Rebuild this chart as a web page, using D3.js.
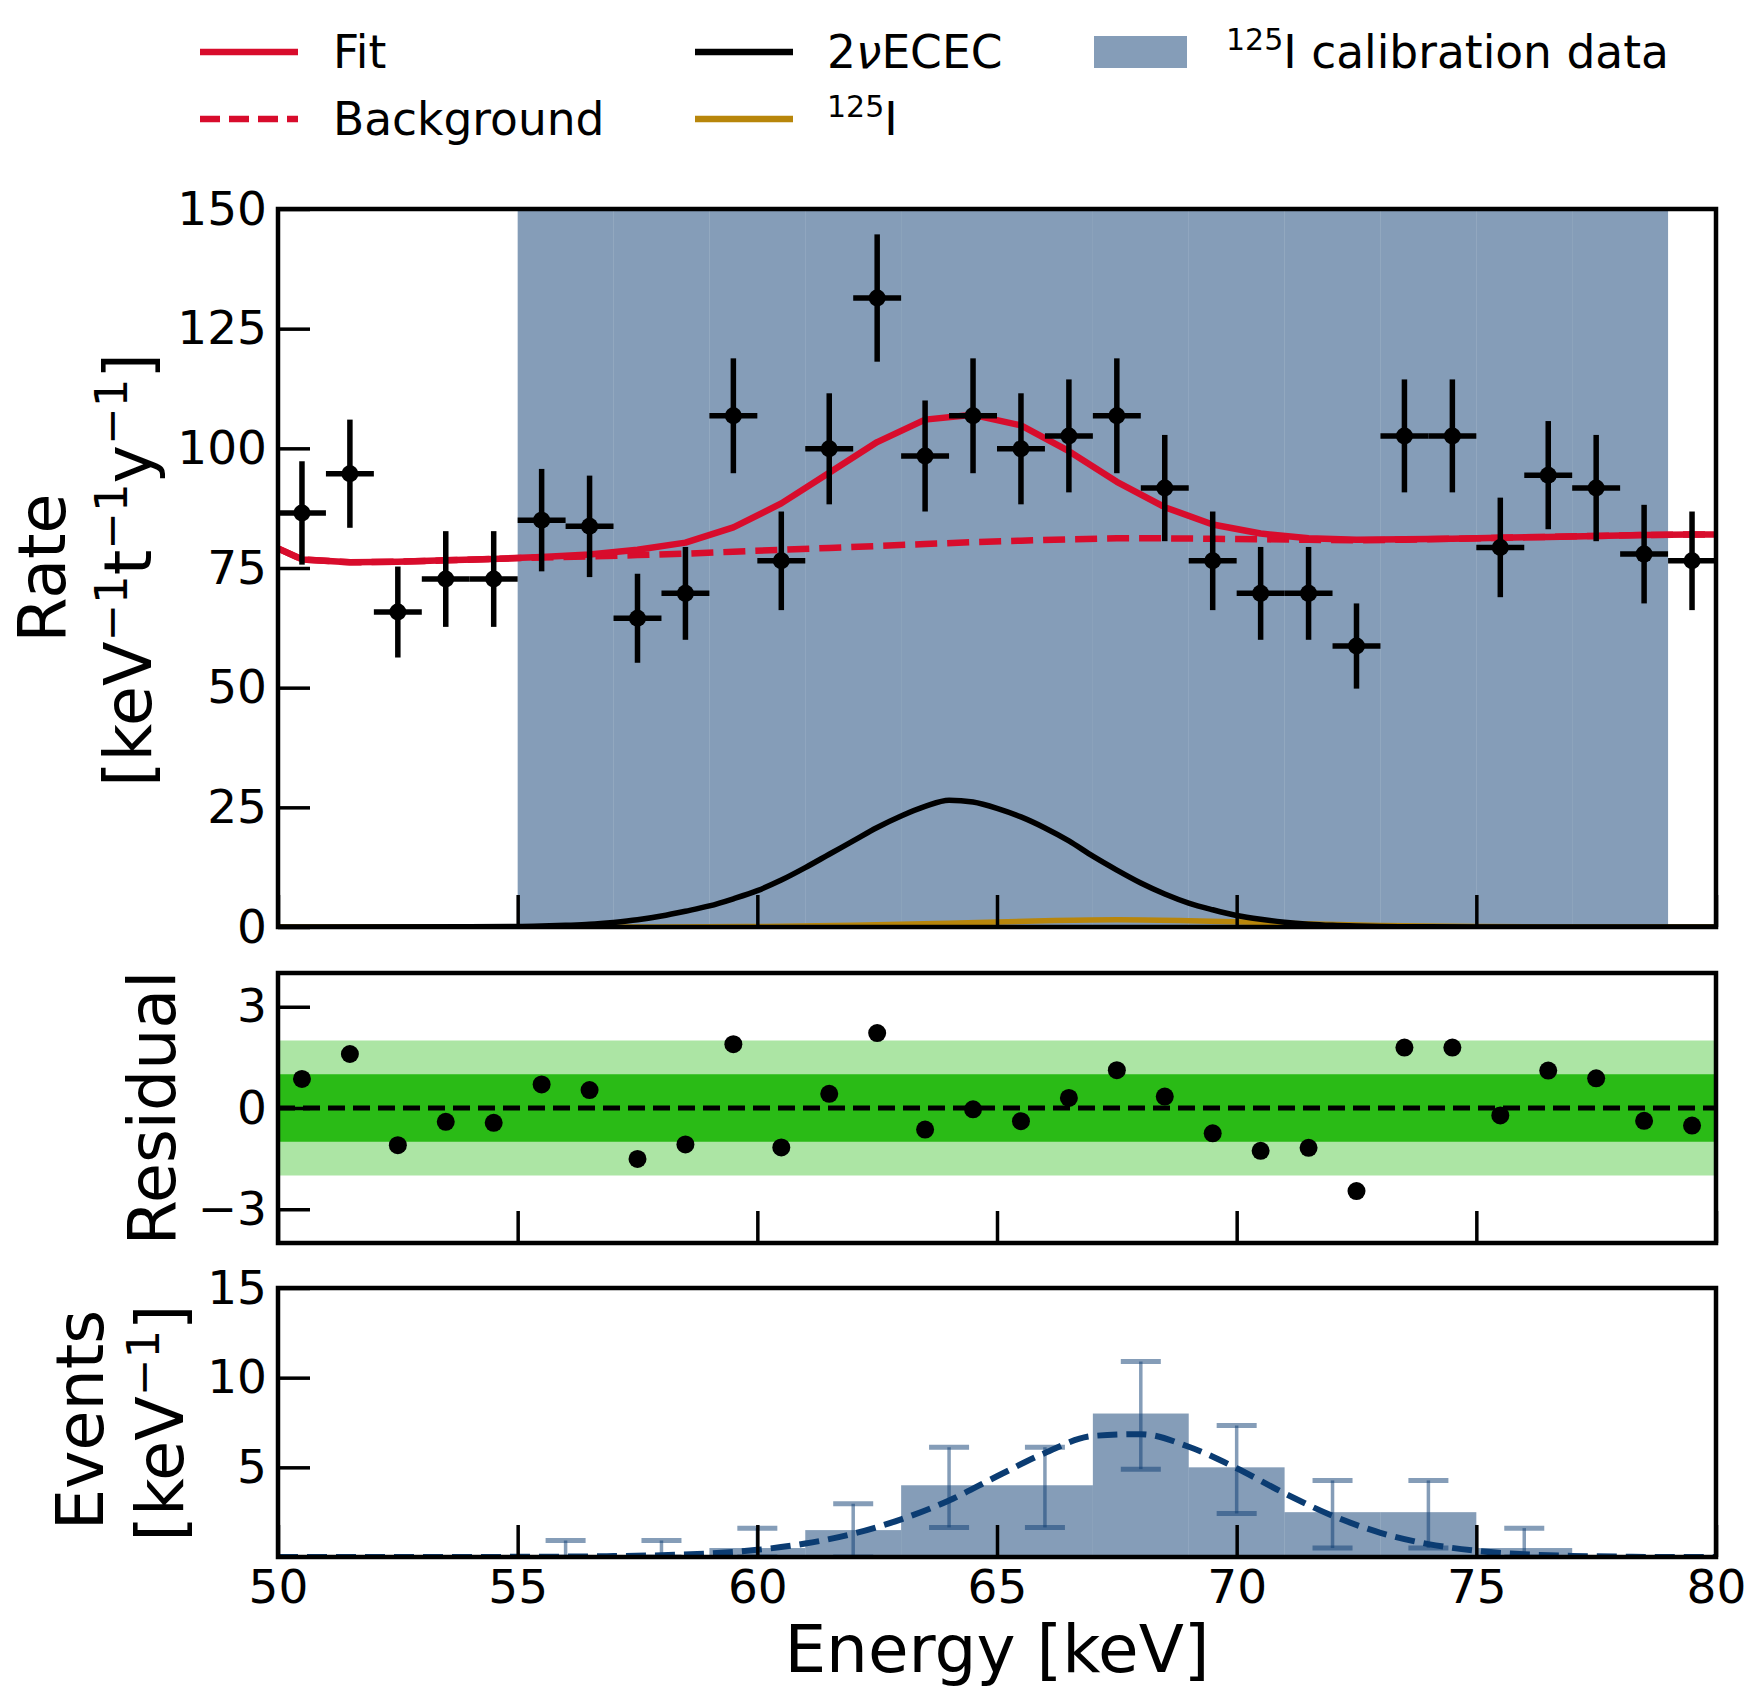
<!DOCTYPE html>
<html>
<head>
<meta charset="utf-8">
<script src="https://cdn.jsdelivr.net/npm/d3@7"></script>
<style>
  body { margin: 0; background: #fff; }
  text { font-family: "DejaVu Sans", sans-serif; fill: #000; }
</style>
</head>
<body>
<div id="chart"></div>
<script>
(function() {
  var width = 1764, height = 1702;

  // ---- data ----
  var binCenters = [50.5, 51.5, 52.5, 53.5, 54.5, 55.5, 56.5, 57.5, 58.5, 59.5,
                    60.5, 61.5, 62.5, 63.5, 64.5, 65.5, 66.5, 67.5, 68.5, 69.5,
                    70.5, 71.5, 72.5, 73.5, 74.5, 75.5, 76.5, 77.5, 78.5, 79.5];
  var rateValues = [86.5, 94.7, 65.8, 72.7, 72.7, 85.0, 83.7, 64.5, 69.7, 106.8,
                    76.5, 99.9, 131.4, 98.4, 106.8, 99.9, 102.6, 106.8, 91.7, 76.5,
                    69.7, 69.7, 58.7, 102.6, 102.6, 79.3, 94.4, 91.7, 77.9, 76.5];
  var rateErrors = [10.8, 11.3, 9.5, 10.0, 10.0, 10.7, 10.6, 9.3, 9.7, 12.0,
                    10.3, 11.6, 13.3, 11.6, 12.0, 11.6, 11.8, 12.0, 11.1, 10.3,
                    9.7, 9.7, 8.9, 11.8, 11.8, 10.4, 11.3, 11.1, 10.3, 10.3];
  var residualValues = [0.86, 1.6, -1.1, -0.41, -0.44, 0.70, 0.53, -1.51, -1.08, 1.89,
                        -1.17, 0.42, 2.22, -0.64, -0.04, -0.39, 0.30, 1.12, 0.34, -0.75,
                        -1.27, -1.18, -2.46, 1.79, 1.79, -0.22, 1.11, 0.88, -0.38, -0.52];

  var fitEnergies = [50, 50.5, 51.5, 52.5, 53.5, 54.5, 55.5, 56.5, 57.5, 58.5, 59.5,
                     60.5, 61.5, 62.5, 63.5, 64.5, 65.5, 66.5, 67.5, 68.5, 69.5,
                     70.5, 71.5, 72.5, 73.5, 74.5, 75.5, 76.5, 77.5, 78.5, 79.5, 80];
  var fitValues = [79.1, 76.8, 76.2, 76.3, 76.6, 76.9, 77.3, 77.8, 78.8, 80.3, 83.5,
                   88.5, 94.9, 101.3, 106.0, 107.0, 104.8, 99.4, 93.0, 87.7, 84.1,
                   82.2, 81.2, 80.9, 81.0, 81.1, 81.3, 81.5, 81.7, 81.9, 82.0, 82.0];
  var backgroundValues = [79.1, 76.8, 76.2, 76.3, 76.6, 76.9, 77.2, 77.4, 77.7, 78.0, 78.4,
                          78.8, 79.2, 79.6, 80.0, 80.4, 80.7, 81.0, 81.2, 81.2, 81.1,
                          81.0, 80.9, 80.8, 80.9, 81.1, 81.3, 81.5, 81.7, 81.9, 82.0, 82.0];

  var ececEnergies = [50, 54, 55, 55.5, 56, 56.5, 57, 57.5, 58, 58.5, 59, 59.5, 60,
                      60.5, 61, 61.5, 62, 62.5, 63, 63.5, 64, 64.5, 65,
                      65.5, 66, 66.5, 67, 67.5, 68, 68.5, 69, 69.5, 70,
                      70.5, 71, 71.5, 72, 72.5, 73, 74, 75, 80];
  var ececValues = [0, 0.05, 0.1, 0.2, 0.35, 0.55, 0.95, 1.5, 2.3, 3.3, 4.4, 5.9, 7.6,
                    9.8, 12.4, 15.2, 18.0, 20.8, 23.2, 25.2, 26.5, 26.1, 24.8,
                    23.0, 20.7, 18.0, 14.8, 11.9, 9.2, 6.9, 5.0, 3.6, 2.4,
                    1.6, 1.0, 0.6, 0.35, 0.2, 0.1, 0.03, 0, 0];

  var iodineEnergies = [50, 58, 60, 62, 64, 66, 67.5, 69, 71, 73, 75, 77, 80];
  var iodineValues = [0, 0, 0.1, 0.35, 0.8, 1.3, 1.5, 1.3, 0.8, 0.3, 0.1, 0, 0];

  var calibEdges = [55, 57, 59, 61, 63, 65, 67, 69, 71, 73, 75, 77];
  var calibValues = [0, 0, 0.5, 1.5, 4, 4, 8, 5, 2.5, 2.5, 0.5, 0];
  var calibErrCenters = [56, 58, 60, 62, 64, 66, 68, 70, 72, 74, 76];
  var calibErrLow = [0, 0, 0, 0, 1.65, 1.65, 4.9, 2.43, 0.5, 0.5, 0];
  var calibErrHigh = [0.92, 0.92, 1.61, 2.97, 6.12, 6.12, 10.9, 7.33, 4.27, 4.27, 1.61];

  var calibFitEnergies = [50, 51, 52, 53, 54, 55, 56, 57, 58, 59, 60, 61, 62, 63, 64, 65,
                          66, 67, 68, 69, 70, 71, 72, 73, 74, 75, 76, 77, 78, 79, 80];
  var calibFitValues = [0, 0, 0, 0, 0, 0.01, 0.02, 0.05, 0.1, 0.2, 0.4, 0.75, 1.3, 2.1, 3.15, 4.5,
                        5.8, 6.75, 6.85, 6.15, 4.95, 3.55, 2.3, 1.35, 0.72, 0.35, 0.15, 0.06, 0.02, 0, 0];

  var energyTicks = [50, 55, 60, 65, 70, 75, 80];
  var rateTicks = [0, 25, 50, 75, 100, 125, 150];
  var residualTicks = [-3, 0, 3];
  var eventTicks = [5, 10, 15];

  var red = "#d80c2c", navy = "#0b3c72", gold = "#b8860b";

  var svg = d3.select("#chart")
    .append("svg")
    .attr("width", width)
    .attr("height", height);

  var x = d3.scaleLinear().domain([50, 80]).range([278, 1716]);
  var yRate = d3.scaleLinear().domain([0, 150]).range([927, 209]);
  var yRes = d3.scaleLinear().domain([-4, 4]).range([1243, 973]);
  var yEvents = d3.scaleLinear().domain([0, 15]).range([1557, 1288]);

  var defs = svg.append("defs");
  function makeClip(id, y) {
    defs.append("clipPath").attr("id", id)
      .append("rect")
      .attr("x", x.range()[0]).attr("y", y.range()[1])
      .attr("width", x.range()[1] - x.range()[0])
      .attr("height", y.range()[0] - y.range()[1]);
  }
  makeClip("clip-rate", yRate);
  makeClip("clip-res", yRes);
  makeClip("clip-events", yEvents);

  // ---------------- top panel ----------------
  var top = svg.append("g").attr("clip-path", "url(#clip-rate)");

  // calibration region shading
  top.selectAll(".calib-band")
    .data(calibEdges)
    .enter()
    .append("rect")
    .attr("class", "calib-band")
    .attr("x", function(d) { return x(d) })
    .attr("width", function(d) { return x(d + 2) - x(d) })
    .attr("y", yRate(150))
    .attr("height", yRate(0) - yRate(150))
    .attr("fill", navy)
    .attr("fill-opacity", 0.5);

  function curve(xs, ys, yScale, smooth) {
    var pts = xs.map(function(d, i) { return [d, ys[i]] });
    var l = d3.line()
      .x(function(d) { return x(d[0]) })
      .y(function(d) { return yScale(d[1]) });
    if (smooth) l.curve(d3.curveMonotoneX);
    return l(pts);
  }

  top.append("path")
    .attr("d", curve(iodineEnergies, iodineValues, yRate, true))
    .attr("fill", "none").attr("stroke", gold).attr("stroke-width", 5.5);

  top.append("path")
    .attr("d", curve(ececEnergies, ececValues, yRate, true))
    .attr("fill", "none").attr("stroke", "#000").attr("stroke-width", 5.5);

  top.append("path")
    .attr("d", curve(fitEnergies, backgroundValues, yRate, false))
    .attr("fill", "none").attr("stroke", red).attr("stroke-width", 6.5)
    .attr("stroke-dasharray", "22,10");

  top.append("path")
    .attr("d", curve(fitEnergies, fitValues, yRate, false))
    .attr("fill", "none").attr("stroke", red).attr("stroke-width", 6.5)
    .attr("stroke-linejoin", "round");

  var pts = top.selectAll(".rate-point")
    .data(binCenters)
    .enter()
    .append("g")
    .attr("class", "rate-point");

  pts.append("line")
    .attr("x1", function(d) { return x(d - 0.5) })
    .attr("x2", function(d) { return x(d + 0.5) })
    .attr("y1", function(d, i) { return yRate(rateValues[i]) })
    .attr("y2", function(d, i) { return yRate(rateValues[i]) })
    .attr("stroke", "#000").attr("stroke-width", 5.5);

  pts.append("line")
    .attr("x1", function(d) { return x(d) })
    .attr("x2", function(d) { return x(d) })
    .attr("y1", function(d, i) { return yRate(rateValues[i] - rateErrors[i]) })
    .attr("y2", function(d, i) { return yRate(rateValues[i] + rateErrors[i]) })
    .attr("stroke", "#000").attr("stroke-width", 5.5);

  pts.append("circle")
    .attr("cx", function(d) { return x(d) })
    .attr("cy", function(d, i) { return yRate(rateValues[i]) })
    .attr("r", 8.5)
    .attr("fill", "#000");

  // ---------------- residual panel ----------------
  var mid = svg.append("g").attr("clip-path", "url(#clip-res)");

  mid.append("rect")
    .attr("x", x(50)).attr("width", x(80) - x(50))
    .attr("y", yRes(2)).attr("height", yRes(-2) - yRes(2))
    .attr("fill", "#ace5a4");
  mid.append("rect")
    .attr("x", x(50)).attr("width", x(80) - x(50))
    .attr("y", yRes(1)).attr("height", yRes(-1) - yRes(1))
    .attr("fill", "#2abb16");
  mid.append("line")
    .attr("x1", x(50)).attr("x2", x(80))
    .attr("y1", yRes(0)).attr("y2", yRes(0))
    .attr("stroke", "#000").attr("stroke-width", 5)
    .attr("stroke-dasharray", "17,8");

  mid.selectAll(".res-point")
    .data(binCenters)
    .enter()
    .append("circle")
    .attr("class", "res-point")
    .attr("cx", function(d) { return x(d) })
    .attr("cy", function(d, i) { return yRes(residualValues[i]) })
    .attr("r", 9)
    .attr("fill", "#000");

  // ---------------- calibration panel ----------------
  var bot = svg.append("g").attr("clip-path", "url(#clip-events)");

  bot.selectAll(".calib-bar")
    .data(calibEdges)
    .enter()
    .append("rect")
    .attr("class", "calib-bar")
    .attr("x", function(d) { return x(d) })
    .attr("width", function(d) { return x(d + 2) - x(d) })
    .attr("y", function(d, i) { return yEvents(calibValues[i]) })
    .attr("height", function(d, i) { return yEvents(0) - yEvents(calibValues[i]) })
    .attr("fill", navy)
    .attr("fill-opacity", 0.5);

  var errs = bot.selectAll(".calib-err")
    .data(calibErrCenters)
    .enter()
    .append("g")
    .attr("class", "calib-err");

  errs.append("line")
    .attr("x1", function(d) { return x(d) })
    .attr("x2", function(d) { return x(d) })
    .attr("y1", function(d, i) { return yEvents(calibErrLow[i]) })
    .attr("y2", function(d, i) { return yEvents(calibErrHigh[i]) })
    .attr("stroke", navy).attr("stroke-opacity", 0.5).attr("stroke-width", 3.5);

  [calibErrLow, calibErrHigh].forEach(function(arr) {
    errs.append("line")
      .attr("x1", function(d) { return x(d) - 20 })
      .attr("x2", function(d) { return x(d) + 20 })
      .attr("y1", function(d, i) { return yEvents(arr[i]) })
      .attr("y2", function(d, i) { return yEvents(arr[i]) })
      .attr("stroke", navy).attr("stroke-opacity", 0.5).attr("stroke-width", 5);
  });

  bot.append("path")
    .attr("d", curve(calibFitEnergies, calibFitValues, yEvents, true))
    .attr("fill", "none").attr("stroke", navy).attr("stroke-width", 6)
    .attr("stroke-dasharray", "20,9");

  // ---------------- axes ----------------
  function styleAxis(g) {
    g.attr("font-size", 47).attr("font-family", "DejaVu Sans");
    g.select(".domain").remove();
    g.selectAll(".tick line").attr("stroke", "#000").attr("stroke-width", 3.5);
    g.selectAll(".tick text").attr("fill", "#000");
  }

  function drawAxes(yScale, yTicks, showX) {
    var xAxis = d3.axisBottom(x).tickValues(energyTicks).tickSize(-32).tickPadding(13);
    if (!showX) xAxis.tickFormat(function(d) { return '' });
    svg.append("g")
      .attr("transform", "translate(0," + yScale.range()[0] + ")")
      .call(xAxis)
      .call(styleAxis);

    var yAxis = d3.axisLeft(yScale).tickValues(yTicks).tickSize(-32).tickPadding(11);
    svg.append("g")
      .attr("transform", "translate(" + x(50) + ",0)")
      .call(yAxis)
      .call(styleAxis);

    svg.append("rect")
      .attr("x", x(50)).attr("y", yScale.range()[1])
      .attr("width", x(80) - x(50))
      .attr("height", yScale.range()[0] - yScale.range()[1])
      .attr("fill", "none").attr("stroke", "#000").attr("stroke-width", 4.5);
  }

  drawAxes(yRate, rateTicks, false);
  drawAxes(yRes, residualTicks, false);
  drawAxes(yEvents, eventTicks, true);

  // text with superscripts
  function richText(sel, parts, supSize, rise) {
    var current = 0;
    parts.forEach(function(p) {
      var target = p.sup ? -rise : 0;
      var span = sel.append("tspan").text(p.sup || p.t);
      if (target != current) span.attr("dy", target - current);
      if (p.sup) span.attr("font-size", supSize);
      if (p.it) span.attr("font-style", "italic");
      current = target;
    });
  }

  function yLabel(parts, bx, cy) {
    var t = svg.append("text")
      .attr("transform", "translate(" + bx + "," + cy + ") rotate(-90)")
      .attr("text-anchor", "middle")
      .attr("font-size", 65);
    richText(t, parts, 45, 24);
  }

  yLabel([{ t: "Rate" }], 65, 568);
  yLabel([{ t: "[keV" }, { sup: "\u22121" }, { t: "t" }, { sup: "\u22121" }, { t: "y" }, { sup: "\u22121" }, { t: "]" }], 151, 570);
  yLabel([{ t: "Residual" }], 175, 1108);
  yLabel([{ t: "Events" }], 103, 1420);
  yLabel([{ t: "[keV" }, { sup: "\u22121" }, { t: "]" }], 183, 1423);

  svg.append("text")
    .attr("x", (x(50) + x(80)) / 2)
    .attr("y", 1672)
    .attr("text-anchor", "middle")
    .attr("font-size", 66)
    .text("Energy [keV]");

  // ---------------- legend ----------------
  var legend = svg.append("g").attr("font-size", 45.5);

  legend.append("line")
    .attr("x1", 200).attr("x2", 298).attr("y1", 52).attr("y2", 52)
    .attr("stroke", red).attr("stroke-width", 6.5);
  legend.append("text").attr("x", 333).attr("y", 68).text("Fit");

  legend.append("line")
    .attr("x1", 200).attr("x2", 298).attr("y1", 119).attr("y2", 119)
    .attr("stroke", red).attr("stroke-width", 6.5).attr("stroke-dasharray", "20,9");
  legend.append("text").attr("x", 333).attr("y", 135).text("Background");

  legend.append("line")
    .attr("x1", 695).attr("x2", 793).attr("y1", 52).attr("y2", 52)
    .attr("stroke", "#000").attr("stroke-width", 6.5);
  richText(legend.append("text").attr("x", 827).attr("y", 68),
    [{ t: "2" }, { t: "\u03bd", it: true }, { t: "ECEC" }], 30, 18);

  legend.append("line")
    .attr("x1", 695).attr("x2", 793).attr("y1", 119).attr("y2", 119)
    .attr("stroke", gold).attr("stroke-width", 6.5);
  richText(legend.append("text").attr("x", 827).attr("y", 135),
    [{ sup: "125" }, { t: "I" }], 30, 18);

  legend.append("rect")
    .attr("x", 1094).attr("y", 36).attr("width", 93).attr("height", 32)
    .attr("fill", navy).attr("fill-opacity", 0.5);
  richText(legend.append("text").attr("x", 1226).attr("y", 68),
    [{ sup: "125" }, { t: "I calibration data" }], 30, 18);

})();
</script>
</body>
</html>
